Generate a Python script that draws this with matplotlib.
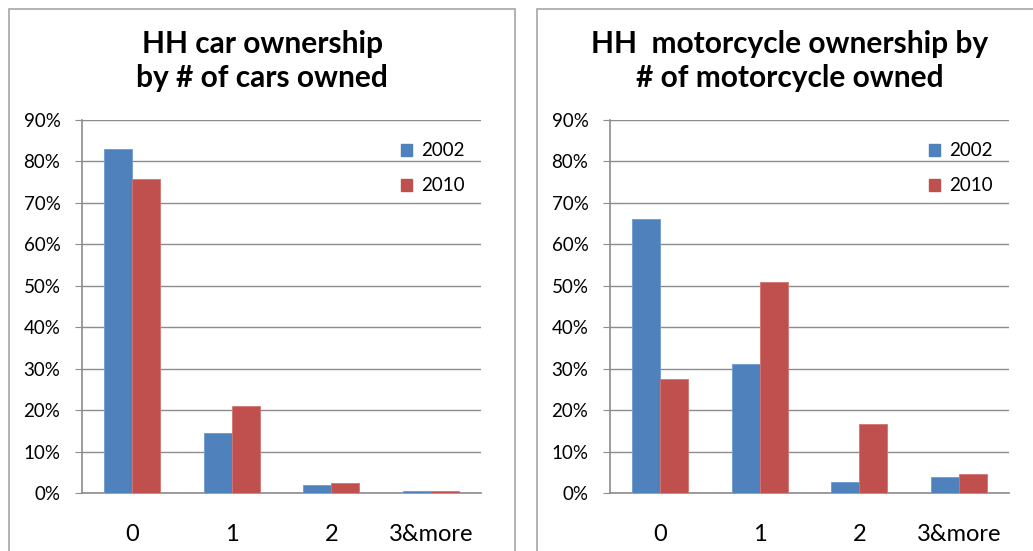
import matplotlib
matplotlib.use("Agg")
from matplotlib import pyplot as plt
from matplotlib.patches import Rectangle, Patch
from matplotlib.ticker import PercentFormatter
import numpy as np

plt.rcParams['font.family'] = ['Lato', 'DejaVu Sans']

categories = ["0", "1", "2", "3&more"]
years = ["2002", "2010"]
car_2002 = [0.830, 0.145, 0.019, 0.004]
car_2010 = [0.758, 0.210, 0.023, 0.004]
moto_2002 = [0.660, 0.312, 0.026, 0.039]
moto_2010 = [0.274, 0.510, 0.166, 0.046]
titles = ["HH car ownership\nby # of cars owned",
          "HH  motorcycle ownership by\n# of motorcycle owned"]

BLUE = "#4F81BD"
RED = "#C0504D"
GRID = "#8c8c8c"

W, H = 1033, 551
fig = plt.figure(figsize=(W / 100, H / 100), dpi=100)


def px(x0, y0, w, h):
    # pixel box (top-left origin) -> figure fraction
    return [x0 / W, 1 - (y0 + h) / H, w / W, h / H]


# panel frames
for x0 in (9, 537):
    fig.patches.append(Rectangle((x0 / W, -0.1), 506 / W, 1.1 - 9 / H,
                                 transform=fig.transFigure, fill=False,
                                 edgecolor="#a6a6a6", linewidth=1.2))


def draw_panel(ax, title, cx, s1, s2):
    x = np.arange(len(categories))
    bw = 0.28
    ax.bar(x - bw / 2, s1, bw, color=BLUE, edgecolor="#6f9bd0", linewidth=0.6, label=years[0], zorder=3)
    ax.bar(x + bw / 2, s2, bw, color=RED, edgecolor="#d47370", linewidth=0.6, label=years[1], zorder=3)
    ax.set_xlim(-0.5, len(categories) - 0.5)
    ax.set_ylim(0, 0.9)
    ax.set_yticks(np.arange(0, 0.91, 0.1))
    ax.yaxis.set_major_formatter(PercentFormatter(1.0, decimals=0))
    ax.set_xticks(x)
    ax.set_xticklabels(categories, fontsize=17)
    ax.tick_params(axis="x", length=0, pad=22)
    ax.tick_params(axis="y", length=5, color=GRID, labelsize=13.5, pad=10.5)
    ax.grid(axis="y", color=GRID, linewidth=1, zorder=0)
    for s in ("top", "right"):
        ax.spines[s].set_visible(False)
    for s in ("left", "bottom"):
        ax.spines[s].set_color(GRID)
        ax.spines[s].set_linewidth(1.2)
    handles = [Patch(color=BLUE, label=years[0]), Patch(color=RED, label=years[1])]
    ax.legend(handles=handles, loc="upper left", bbox_to_anchor=(0.78, 0.96),
              frameon=False, fontsize=13.5, handlelength=0.6, handleheight=0.6,
              handletextpad=0.5, labelspacing=0.95, borderaxespad=0)
    fig.text(cx, 1 - 61 / H, title, ha="center", va="center", fontsize=21.5,
             fontweight="bold", linespacing=1.25)


ax1 = fig.add_axes(px(82, 120, 399, 373))
ax2 = fig.add_axes(px(610, 120, 399, 373))
draw_panel(ax1, titles[0], 262 / W, car_2002, car_2010)
draw_panel(ax2, titles[1], 790 / W, moto_2002, moto_2010)

fig.savefig("out.png", dpi=100)
